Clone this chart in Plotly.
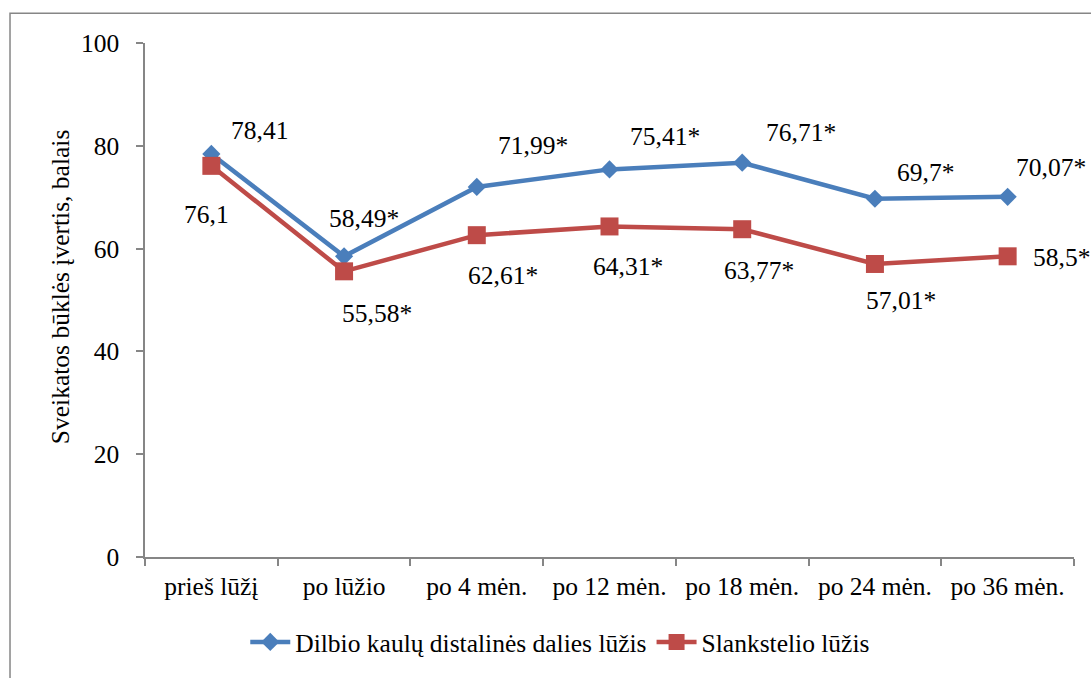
import plotly.graph_objects as go

categories = ["prieš lūžį", "po lūžio", "po 4 mėn.", "po 12 mėn.",
              "po 18 mėn.", "po 24 mėn.", "po 36 mėn."]
forearm = [78.41, 58.49, 71.99, 75.41, 76.71, 69.7, 70.07]
forearm_labels = ["78,41", "58,49*", "71,99*", "75,41*", "76,71*", "69,7*", "70,07*"]
vertebra = [76.1, 55.58, 62.61, 64.31, 63.77, 57.01, 58.5]
vertebra_labels = ["76,1", "55,58*", "62,61*", "64,31*", "63,77*", "57,01*", "58,5*"]

series_names = ["Dilbio kaulų distalinės dalies lūžis", "Slankstelio lūžis"]
y_title = "Sveikatos būklės įvertis, balais"

BLUE = "#4A7EBB"
RED = "#BE4B48"
AXIS = "#868686"
FONT = "Liberation Serif"
FS = 25.5

fig = go.Figure()

# white halo under each line, then the coloured series on top
for vals, color, sym, msize, name in [
    (forearm, BLUE, "diamond", 14, series_names[0]),
    (vertebra, RED, "square", 18, series_names[1]),
]:
    fig.add_trace(go.Scatter(
        x=categories, y=vals, mode="lines",
        line=dict(color="white", width=8), showlegend=False, hoverinfo="skip"))
    fig.add_trace(go.Scatter(
        x=categories, y=vals, mode="lines+markers", name=name,
        line=dict(color=color, width=4.5),
        marker=dict(symbol=sym, size=msize, color=color)))

# data labels: pixel offset (right, down) of each label from its point
forearm_offsets = [(48, -23), (20, -38), (56, -41), (55, -33), (59, -30), (51, -26), (43, -29)]
vertebra_offsets = [(-5, 49), (33, 42), (26, 40), (18, 40), (17, 41), (26, 37), (54, 1)]
for vals, labels, offsets in [(forearm, forearm_labels, forearm_offsets),
                              (vertebra, vertebra_labels, vertebra_offsets)]:
    for c, v, t, (dx, dy) in zip(categories, vals, labels, offsets):
        fig.add_annotation(x=c, y=v, text=t, showarrow=False,
                           xshift=dx, yshift=-dy,
                           font=dict(family=FONT, size=FS, color="black"))

# y-axis title
fig.add_annotation(x=-0.0915, y=0.525, xref="paper", yref="paper",
                   xanchor="center", yanchor="middle",
                   text=y_title, textangle=-90, showarrow=False,
                   font=dict(family=FONT, size=FS, color="black"))

# outer chart border
fig.add_shape(type="rect", xref="paper", yref="paper",
              x0=-0.1453, y0=-0.4, x1=1.2, y1=1.0579,
              line=dict(color=AXIS, width=1.5), fillcolor="rgba(0,0,0,0)")

fig.update_layout(
    width=1091, height=678,
    margin=dict(l=145, r=17, t=43, b=117),
    paper_bgcolor="white", plot_bgcolor="white",
    font=dict(family=FONT, size=FS, color="black"),
    showlegend=True,
    legend=dict(orientation="h", x=0.447, xanchor="center", y=-0.166, yanchor="middle",
                font=dict(family=FONT, size=FS, color="black"), itemwidth=40),
)
fig.update_xaxes(
    type="category", range=[-0.5, 6.5],
    showline=True, linecolor=AXIS, linewidth=1.5,
    ticks="outside", ticklen=7, tickcolor=AXIS, tickwidth=1.5,
    tickson="boundaries", showgrid=False, zeroline=False,
    ticklabelstandoff=6,
    tickfont=dict(family=FONT, size=FS, color="black"),
)
fig.update_yaxes(
    range=[0, 100], dtick=20,
    showline=True, linecolor=AXIS, linewidth=1.5,
    ticks="outside", ticklen=7, tickcolor=AXIS, tickwidth=1.5,
    showgrid=False, zeroline=False,
    ticklabelstandoff=12,
    tickfont=dict(family=FONT, size=FS, color="black"),
)

fig.write_html("out.html")
